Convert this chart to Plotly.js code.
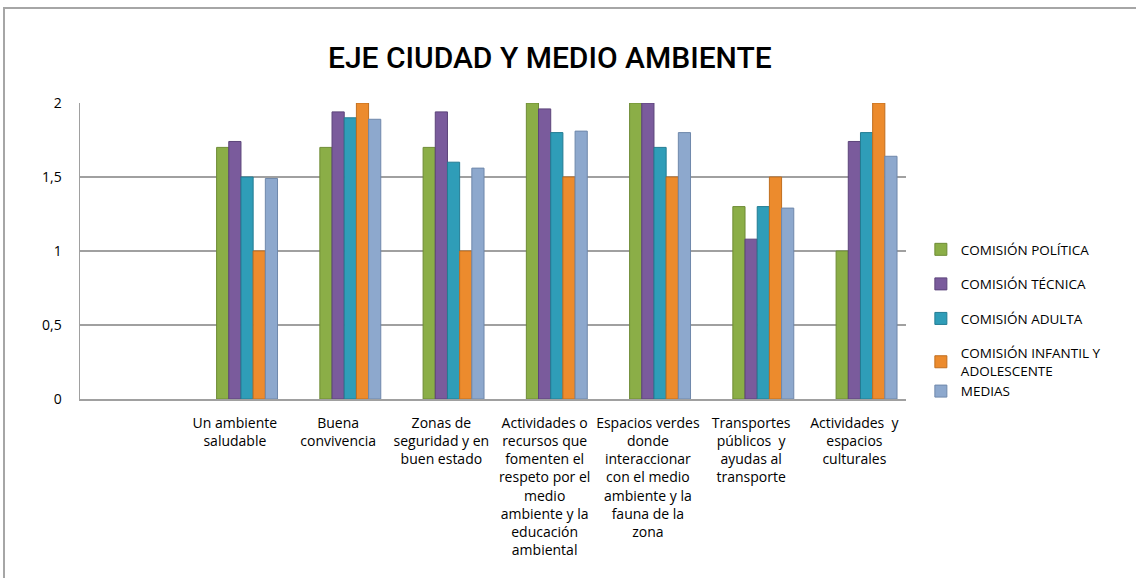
<!DOCTYPE html>
<html>
<head>
<meta charset="utf-8">
<script src="https://cdn.plot.ly/plotly-3.0.1.min.js"></script>
<style>
  html, body { margin: 0; padding: 0; background: #fff; }
  #wrap { position: relative; width: 1136px; height: 578px; }
  #frame { position: absolute; left: 3px; top: 7px; width: 1140px; height: 580px;
           border-left: 2px solid #a6a6a6; border-top: 2px solid #a6a6a6; }
  #chart { position: absolute; left: 0; top: 0; width: 1136px; height: 578px; }
</style>
</head>
<body>
<div id="wrap">
  <div id="frame"></div>
  <div id="chart"></div>
</div>
<script>
// ---- data ----
const categories = [
  "",
  "Un ambiente<br>saludable",
  "Buena<br>convivencia",
  "Zonas de<br>seguridad y en<br>buen estado",
  "Actividades o<br>recursos que<br>fomenten el<br>respeto por el<br>medio<br>ambiente y la<br>educación<br>ambiental",
  "Espacios verdes<br>donde<br>interaccionar<br>con el medio<br>ambiente y la<br>fauna de la<br>zona",
  "Transportes<br>públicos  y<br>ayudas al<br>transporte",
  "Actividades  y<br>espacios<br>culturales"
];
const seriesNames = [
  "COMISIÓN POLÍTICA",
  "COMISIÓN TÉCNICA",
  "COMISIÓN ADULTA",
  "COMISIÓN INFANTIL Y<br>ADOLESCENTE",
  "MEDIAS"
];
const comisionPolitica = [null, 1.7, 1.7, 1.7, 2.0, 2.0, 1.3, 1.0];
const comisionTecnica  = [null, 1.74, 1.94, 1.94, 1.96, 2.0, 1.08, 1.74];
const comisionAdulta   = [null, 1.5, 1.9, 1.6, 1.8, 1.7, 1.3, 1.8];
const comisionInfantil = [null, 1.0, 2.0, 1.0, 1.5, 1.5, 1.5, 2.0];
const medias           = [null, 1.49, 1.89, 1.56, 1.81, 1.8, 1.29, 1.64];
const yTickVals = [0, 0.5, 1, 1.5, 2];

// ---- styling ----
const fills = ["#8BAE47", "#7A5B9C", "#2F9DB8", "#EC8B2D", "#8DA8CD"];
const edges = ["#6E8C35", "#5C447A", "#237C93", "#C06E1F", "#6F88AB"];
const groups = ["g1", "g2", "g3", "g4", "g4"];
const allSeries = [comisionPolitica, comisionTecnica, comisionAdulta, comisionInfantil, medias];
const xIdx = categories.map((c, i) => i);
const w = 0.118;

const traces = allSeries.map((vals, j) => ({
  type: "bar",
  name: seriesNames[j],
  x: xIdx,
  y: vals,
  width: w,
  offset: (-1.5 + j) * w,
  legendgroup: groups[j],
  marker: { color: fills[j], line: { color: edges[j], width: 1 } },
  hoverinfo: "y"
}));

const layout = {
  width: 1136, height: 578,
  margin: { l: 80, r: 230, t: 103, b: 179 },
  paper_bgcolor: "rgba(0,0,0,0)",
  plot_bgcolor: "rgba(0,0,0,0)",
  separators: ",.",
  barmode: "overlay",
  font: { family: "Open Sans, sans-serif", size: 14, color: "#000" },
  title: {
    text: "EJE CIUDAD Y MEDIO AMBIENTE",
    font: { family: "Roboto, sans-serif", size: 30, weight: 500, color: "#000" },
    x: 0.484, xanchor: "center", y: 0.9, yanchor: "middle", yref: "container"
  },
  xaxis: {
    range: [-0.5, 7.5],
    tickmode: "array", tickvals: xIdx, ticktext: categories,
    showgrid: false, zeroline: false,
    showline: true, linecolor: "#a0a0a0", linewidth: 2,
    ticks: "", ticklabelstandoff: 10, tickfont: { size: 14 }
  },
  yaxis: {
    range: [0, 2], tickmode: "array", tickvals: yTickVals,
    showgrid: true, gridcolor: "#a0a0a0", gridwidth: 1.5,
    zeroline: false, showline: true, linecolor: "#a0a0a0", linewidth: 1.5,
    ticks: "", ticklabelstandoff: 14, tickfont: { size: 14 }
  },
  legend: {
    x: 1.018, xanchor: "left", y: 0.265, yanchor: "middle",
    traceorder: "grouped", tracegroupgap: 14,
    font: { size: 13.5 }, itemwidth: 30,
    bgcolor: "rgba(0,0,0,0)"
  },
  showlegend: true
};

Plotly.newPlot("chart", traces, layout, { staticPlot: true, displayModeBar: false });
</script>
</body>
</html>
